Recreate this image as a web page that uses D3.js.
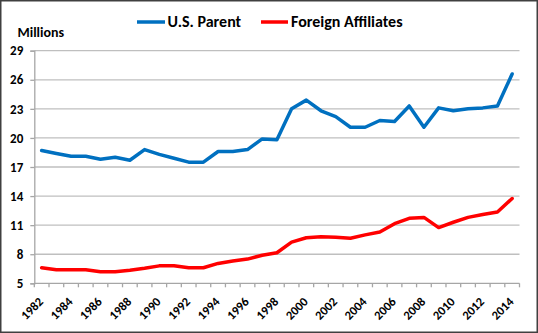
<!DOCTYPE html>
<html><head><meta charset="utf-8">
<script src="https://cdn.jsdelivr.net/npm/d3@7"></script>
<style>
html,body{margin:0;padding:0;background:#fff;}
svg{display:block;}
text{font-family:Carlito,Lato,"Open Sans",sans-serif;font-weight:bold;fill:#000;}
</style></head>
<body>
<script>
const years = d3.range(1982, 2015);
const usParent = [18.7,18.4,18.1,18.1,17.8,18.0,17.7,18.8,18.3,17.9,17.5,17.5,18.6,18.6,18.8,19.9,19.8,23.0,23.9,22.8,22.2,21.1,21.1,21.8,21.7,23.3,21.1,23.1,22.8,23.0,23.1,23.3,26.6];
const foreignAffiliates = [6.6,6.4,6.4,6.4,6.2,6.2,6.35,6.55,6.8,6.8,6.6,6.6,7.05,7.3,7.5,7.9,8.15,9.25,9.7,9.8,9.75,9.65,10.0,10.3,11.15,11.7,11.8,10.75,11.3,11.8,12.1,12.35,13.75];
const yTicks = [5,8,11,14,17,20,23,26,29];
const seriesNames = ["U.S. Parent","Foreign Affiliates"];
const seriesColors = ["#0070C0","#FF0000"];

const W = 538, H = 333;
const svg = d3.select("body").append("svg").attr("width", W).attr("height", H);
svg.append("rect").attr("x",0.75).attr("y",0.75).attr("width",W-1.5).attr("height",H-1.5)
  .attr("fill","#fff").attr("stroke","#404040").attr("stroke-width",1.5);

const pLeft = 34.3, pRight = 519.5, pTop = 50.7, pBottom = 283.3;
const x = d3.scaleBand().domain(years).range([pLeft, pRight]).paddingInner(0).paddingOuter(0);
const y = d3.scaleLinear().domain([5, 29]).range([pBottom, pTop]);

// gridlines
svg.append("g").selectAll("line").data(yTicks.filter(t=>t!==5)).join("line")
  .attr("x1", pLeft).attr("x2", pRight)
  .attr("y1", d=>y(d)).attr("y2", d=>y(d))
  .attr("stroke","#bfbfbf").attr("stroke-width",1.3);

// y axis
const yAxis = d3.axisLeft(y).tickValues(yTicks).tickSize(4).tickPadding(7).tickFormat(d3.format("d"));
const gy = svg.append("g").attr("transform",`translate(${pLeft},0)`).call(yAxis);
gy.attr("font-family",null).attr("font-size",null);
gy.select(".domain").attr("stroke","#a6a6a6").attr("stroke-width",1.3);
gy.selectAll(".tick line").attr("stroke","#a6a6a6").attr("stroke-width",1.3);
gy.selectAll("text").attr("font-size",13).attr("fill","#000");

// x axis: ticks between categories
const gx = svg.append("g").attr("transform",`translate(0,${pBottom})`);
gx.append("line").attr("x1",pLeft).attr("x2",pRight).attr("stroke","#a6a6a6").attr("stroke-width",1.3);
const boundaries = years.map(yr=>x(yr)).concat([pRight]);
gx.selectAll("line.tk").data(boundaries).join("line").attr("class","tk")
  .attr("x1",d=>d).attr("x2",d=>d).attr("y1",0).attr("y2",4)
  .attr("stroke","#a6a6a6").attr("stroke-width",1.3);
const labelYears = years.filter(yr => (yr-1982)%2===0);
gx.selectAll("text").data(labelYears).join("text")
  .attr("transform", d=>`translate(${x(d)+x.bandwidth()/2-0.5},${16.5}) rotate(-45)`)
  .attr("text-anchor","end").attr("dy","0.32em")
  .attr("font-size",12.5)
  .text(d=>d);

// lines
const line = d3.line().x((d,i)=>x(years[i])+x.bandwidth()/2).y(d=>y(d));
[usParent, foreignAffiliates].forEach((s,i)=>{
  svg.append("path").datum(s).attr("d", line).attr("fill","none")
    .attr("stroke", seriesColors[i]).attr("stroke-width",3.5)
    .attr("stroke-linejoin","round").attr("stroke-linecap","round");
});

// Millions label
svg.append("text").attr("x",17.5).attr("y",37).attr("font-size",14).text("Millions");

// legend
const legend = [{x0:137,x1:165,tx:167.5},{x0:261,x1:288,tx:291}];
legend.forEach((l,i)=>{
  svg.append("line").attr("x1",l.x0).attr("x2",l.x1).attr("y1",22).attr("y2",22)
    .attr("stroke",seriesColors[i]).attr("stroke-width",3.5);
  svg.append("text").attr("x",l.tx).attr("y",22).attr("dy","0.32em").attr("font-size",16).text(seriesNames[i]);
});
</script>
</body></html>
